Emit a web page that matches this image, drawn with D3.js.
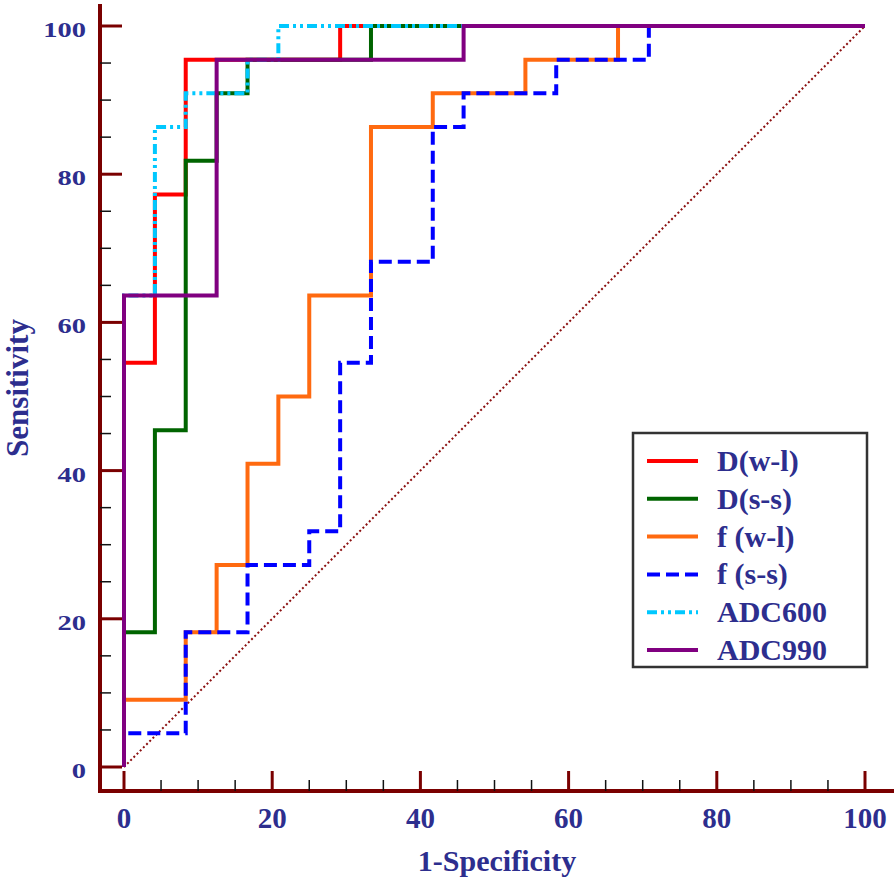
<!DOCTYPE html>
<html>
<head>
<meta charset="utf-8">
<script src="https://cdn.jsdelivr.net/npm/d3@7"></script>
<style>
  html, body { margin: 0; padding: 0; background: #fff; }
  svg { display: block; }
  text { font-family: "Liberation Serif", "Times New Roman", serif; font-weight: bold; fill: #2d2e8e; }
</style>
</head>
<body>
<svg id="chart" width="894" height="882"></svg>
<script>
// ---- data ----
const seriesNames = ["D(w-l)", "D(s-s)", "f (w-l)", "f (s-s)", "ADC600", "ADC990"];
const fprDwl = [0, 0, 4.17, 8.33, 29.17, 100];
const tprDwl = [0, 54.55, 77.27, 95.45, 100, 100];
const fprDss = [0, 0, 4.17, 8.33, 12.5, 16.67, 33.33, 100];
const tprDss = [0, 18.18, 45.45, 81.82, 90.91, 95.45, 100, 100];
const fprFwl = [0, 0, 8.33, 12.5, 16.67, 20.83, 25, 33.33, 41.67, 54.17, 66.67, 100];
const tprFwl = [0, 9.09, 18.18, 27.27, 40.91, 50, 63.64, 86.36, 90.91, 95.45, 100, 100];
const fprFss = [0, 0, 8.33, 16.67, 25, 29.17, 33.33, 41.67, 45.83, 58.33, 70.83, 100];
const tprFss = [0, 4.55, 18.18, 27.27, 31.82, 54.55, 68.18, 86.36, 90.91, 95.45, 100, 100];
const fprAdc600 = [0, 0, 4.17, 8.33, 16.67, 20.83, 100];
const tprAdc600 = [0, 63.64, 86.36, 90.91, 95.45, 100, 100];
const fprAdc990 = [0, 0, 12.5, 45.83, 100];
const tprAdc990 = [0, 63.64, 95.45, 100, 100];
const majorTicks = [0, 20, 40, 60, 80, 100];
const minorTicks = [5, 10, 15, 25, 30, 35, 45, 50, 55, 65, 70, 75, 85, 90, 95];
const xTitle = "1-Specificity";
const yTitle = "Sensitivity";

// ---- styles ----
const colors = ["#ff0000", "#006400", "#ff6a10", "#0000ff", "#00c8ff", "#800080"];
const dashes = [null, null, null, "13,6", "10,4,3,4,3,4", null];
const axisColor = "#7a0000";

const fprs = [fprDwl, fprDss, fprFwl, fprFss, fprAdc600, fprAdc990];
const tprs = [tprDwl, tprDss, tprFwl, tprFss, tprAdc600, tprAdc990];

const svg = d3.select("#chart");
const x = d3.scaleLinear().domain([0, 100]).range([124, 865]);
const y = d3.scaleLinear().domain([0, 100]).range([767, 26]);

const axisX = 100, axisY = 791;

// diagonal reference
svg.append("line")
  .attr("x1", x(0)).attr("y1", y(0)).attr("x2", x(100)).attr("y2", y(100))
  .attr("stroke", "#8b1010").attr("stroke-width", 2).attr("stroke-dasharray", "2,2.5");

// curves
const line = d3.line().x(d => x(d[0])).y(d => y(d[1])).curve(d3.curveStepAfter);
seriesNames.forEach((name, i) => {
  const pts = fprs[i].map((v, k) => [v, tprs[i][k]]);
  svg.append("path")
    .attr("d", line(pts))
    .attr("fill", "none")
    .attr("stroke", colors[i])
    .attr("stroke-width", 4)
    .attr("stroke-dasharray", dashes[i]);
});

// axes lines
svg.append("line").attr("x1", axisX).attr("x2", axisX).attr("y1", 4).attr("y2", axisY + 2)
  .attr("stroke", axisColor).attr("stroke-width", 4);
svg.append("line").attr("x1", axisX - 2).attr("x2", 894).attr("y1", axisY).attr("y2", axisY)
  .attr("stroke", axisColor).attr("stroke-width", 4);

// y ticks
svg.selectAll(".ymaj").data(majorTicks).enter().append("line")
  .attr("x1", axisX).attr("x2", 122).attr("y1", d => y(d)).attr("y2", d => y(d))
  .attr("stroke", axisColor).attr("stroke-width", 3);
svg.selectAll(".ymin").data(minorTicks).enter().append("line")
  .attr("x1", axisX).attr("x2", 111).attr("y1", d => y(d)).attr("y2", d => y(d))
  .attr("stroke", "#111").attr("stroke-width", 1.5);
// x ticks
svg.selectAll(".xmaj").data(majorTicks).enter().append("line")
  .attr("x1", d => x(d)).attr("x2", d => x(d)).attr("y1", axisY).attr("y2", 771)
  .attr("stroke", axisColor).attr("stroke-width", 3);
svg.selectAll(".xmin").data(minorTicks).enter().append("line")
  .attr("x1", d => x(d)).attr("x2", d => x(d)).attr("y1", axisY).attr("y2", 780)
  .attr("stroke", "#111").attr("stroke-width", 1.5);

// y tick labels (squat look)
svg.selectAll(".ylab").data(majorTicks).enter().append("text")
  .attr("transform", d => `translate(86, ${y(d) + 11}) scale(1, 0.74)`)
  .attr("text-anchor", "end")
  .style("font-size", "28.5px")
  .text(d => d);
// x tick labels
svg.selectAll(".xlab").data(majorTicks).enter().append("text")
  .attr("x", d => x(d)).attr("y", 828)
  .attr("text-anchor", "middle")
  .style("font-size", "29px")
  .text(d => d);

// titles
svg.append("text").attr("x", 497).attr("y", 871).attr("text-anchor", "middle")
  .style("font-size", "30px").text(xTitle);
svg.append("text").attr("transform", "translate(28, 388) rotate(-90)")
  .attr("text-anchor", "middle").style("font-size", "31px").text(yTitle);

// legend
const lg = svg.append("g");
lg.append("rect").attr("x", 633).attr("y", 433).attr("width", 234).attr("height", 234)
  .attr("fill", "#fff").attr("stroke", "#333").attr("stroke-width", 2.5);
seriesNames.forEach((name, i) => {
  const ry = 461 + i * 37.8;
  lg.append("line").attr("x1", 647).attr("x2", 698).attr("y1", ry).attr("y2", ry)
    .attr("stroke", colors[i]).attr("stroke-width", 4).attr("stroke-dasharray", dashes[i]);
  lg.append("text").attr("x", 717).attr("y", ry + 10).style("font-size", "30px").text(name);
});
</script>
</body>
</html>
